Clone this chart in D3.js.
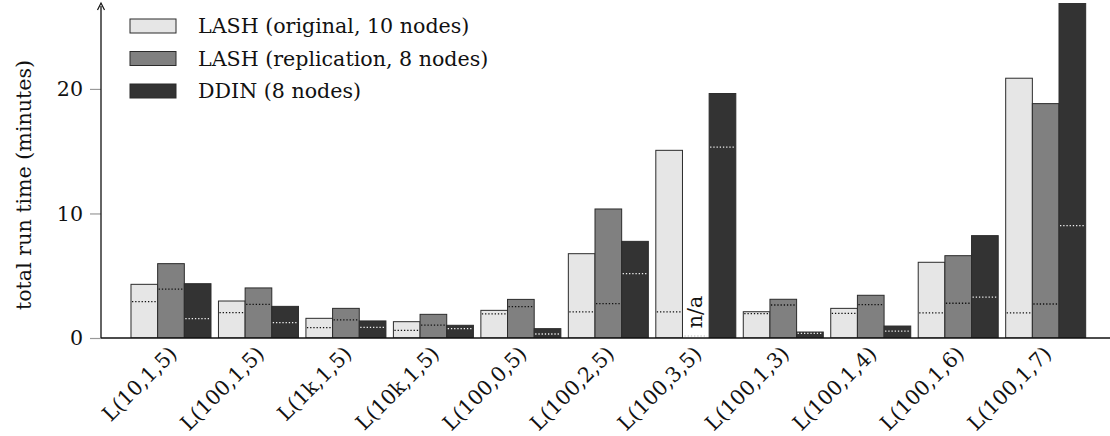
<!DOCTYPE html>
<html><head><meta charset="utf-8">
<script src="https://cdn.jsdelivr.net/npm/d3@7"></script>
<style>body{margin:0;background:#fff}svg{display:block}text{font-family:"DejaVu Serif",serif;fill:#111}</style>
</head><body><svg id="c" width="1110" height="436"></svg>
<script>
const categories = ["L(10,1,5)","L(100,1,5)","L(1k,1,5)","L(10k,1,5)","L(100,0,5)","L(100,2,5)","L(100,3,5)","L(100,1,3)","L(100,1,4)","L(100,1,6)","L(100,1,7)"];
const seriesNames = ["LASH (original, 10 nodes)","LASH (replication, 8 nodes)","DDIN (8 nodes)"];
const lashOriginal    = [4.31, 2.97, 1.58, 1.31, 2.22, 6.77, 15.07, 2.11, 2.38, 6.08, 20.86];
const lashReplication = [5.97, 4.02, 2.38, 1.90, 3.10, 10.36, null, 3.11, 3.43, 6.61, 18.82];
const ddin            = [4.36, 2.54, 1.37, 1.02, 0.75, 7.76, 19.63, 0.48, 0.96, 8.22, 28.0];
const lashOriginalDotted    = [2.92, 2.03, 0.83, 0.62, 1.93, 2.09, 2.09, 1.95, 1.98, 2.01, 2.01];
const lashReplicationDotted = [3.93, 2.70, 1.45, 1.04, 2.52, 2.76, null, 2.65, 2.68, 2.79, 2.73];
const ddinDotted            = [1.55, 1.23, 0.86, 0.75, 0.32, 5.17, 15.32, 0.37, 0.56, 3.29, 9.02];
const yTicks = [0, 10, 20];
const yLabel = "total run time (minutes)";
const naLabel = "n/a";

const fills = ["#e6e6e6", "#808080", "#333333"];
const dotColors = ["#111", "#111", "#f0f0f0"];
const values = [lashOriginal, lashReplication, ddin];
const dotted = [lashOriginalDotted, lashReplicationDotted, ddinDotted];

const svg = d3.select("#c");
const axisX = 101, y0px = 338, yTop = 3, xEnd = 1110;
const y = d3.scaleLinear().domain([0, 26.9]).range([y0px, yTop]);
const step = 87.47;
const x = d3.scaleBand().domain(categories).range([127.25, 127.25 + 11 * step])
  .paddingInner(7.47 / step).paddingOuter(7.47 / step / 2);
const xs = d3.scaleBand().domain([0, 1, 2]).range([0, x.bandwidth()]);

svg.append("defs").append("clipPath").attr("id", "clip")
  .append("rect").attr("x", axisX).attr("y", yTop).attr("width", xEnd - axisX).attr("height", y0px - yTop);

const g = svg.append("g").attr("clip-path", "url(#clip)");
const fs = 20.6;

values.forEach((arr, s) => {
  const data = categories.map((c, i) => ({c, v: arr[i], d: dotted[s][i]})).filter(d => d.v != null);
  g.selectAll(".bar" + s).data(data).enter().append("rect")
    .attr("x", d => x(d.c) + xs(s)).attr("width", xs.bandwidth())
    .attr("y", d => y(d.v)).attr("height", d => y(0) - y(d.v))
    .attr("fill", fills[s]).attr("stroke", "#2b2b2b").attr("stroke-width", 1);
  g.selectAll(".dot" + s).data(data).enter().append("line")
    .attr("x1", d => x(d.c) + xs(s) + 1).attr("x2", d => x(d.c) + xs(s) + xs.bandwidth() - 1)
    .attr("y1", d => y(d.d)).attr("y2", d => y(d.d))
    .attr("stroke", dotColors[s]).attr("stroke-width", 1.3).attr("stroke-dasharray", "1.3,1.9");
});

// n/a label
categories.forEach((c, i) => {
  if (lashReplication[i] == null) {
    const cx = x(c) + xs(1) + xs.bandwidth() / 2;
    svg.append("text").attr("transform", `translate(${cx + 6},${y0px - 26}) rotate(-90)`)
      .attr("text-anchor", "middle").style("font-size", fs + "px").text(naLabel);
    svg.append("line").attr("x1", x(c) + xs(1) + 2).attr("x2", x(c) + xs(1) + xs.bandwidth() - 2)
      .attr("y1", y0px - 2).attr("y2", y0px - 2)
      .attr("stroke", "#bbb").attr("stroke-width", 1).attr("stroke-dasharray", "1.3,1.9");
  }
});

// axes
const yAxis = d3.axisLeft(y).tickValues(yTicks).tickSize(11).tickPadding(7).tickFormat(d3.format("d"));
const ya = svg.append("g").attr("transform", `translate(${axisX},0)`).call(yAxis);
ya.select(".domain").remove();
ya.selectAll(".tick line").attr("stroke", "#999").attr("stroke-width", 1.2);
ya.selectAll(".tick text").style("font-size", fs + "px").style("font-family", "DejaVu Serif").attr("fill", "#111");

svg.append("line").attr("x1", axisX).attr("x2", xEnd).attr("y1", y0px).attr("y2", y0px)
  .attr("stroke", "#111").attr("stroke-width", 1.3);
svg.append("line").attr("x1", axisX).attr("x2", axisX).attr("y1", y0px).attr("y2", yTop + 3)
  .attr("stroke", "#111").attr("stroke-width", 1.3);
svg.append("path").attr("d", `M${axisX - 3.5},${yTop + 7} L${axisX},${yTop} L${axisX + 3.5},${yTop + 7}`)
  .attr("fill", "none").attr("stroke", "#111").attr("stroke-width", 1.2);

// x labels
svg.selectAll(".xl").data(categories).enter().append("text")
  .attr("transform", d => `translate(${x(d) + x.bandwidth() / 2 + 2},${y0px + 12}) rotate(-45)`)
  .attr("text-anchor", "end").attr("dy", "0.35em").style("font-size", fs + "px").text(d => d);

// y label
svg.append("text").attr("transform", `translate(31,185) rotate(-90)`)
  .attr("text-anchor", "middle").style("font-size", fs + "px").text(yLabel);

// legend
const leg = svg.append("g");
seriesNames.forEach((n, i) => {
  const cy = 26 + i * 32.5;
  leg.append("rect").attr("x", 130).attr("y", cy - 7).attr("width", 46).attr("height", 14)
    .attr("fill", fills[i]).attr("stroke", "#2b2b2b").attr("stroke-width", 1);
  leg.append("text").attr("x", 198).attr("y", cy).attr("dy", "0.35em").style("font-size", fs + "px").text(n);
});
</script></body></html>
